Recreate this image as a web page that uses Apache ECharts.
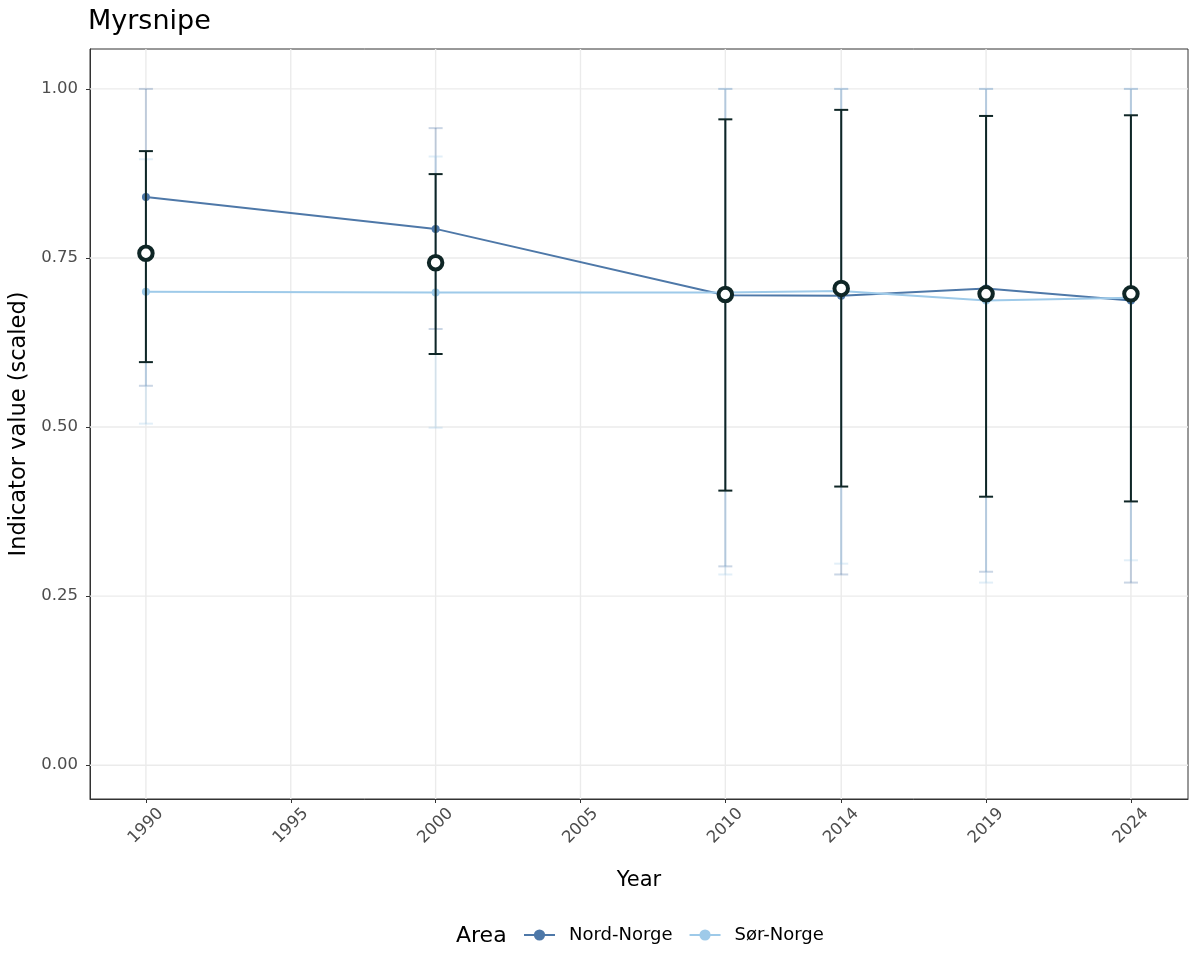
<!DOCTYPE html>
<html>
<head>
<meta charset="utf-8">
<script src="https://cdn.jsdelivr.net/npm/echarts@6/dist/echarts.min.js"></script>
<style>html,body{margin:0;padding:0;background:#fff;}#chart{width:1200px;height:975px;}</style>
</head>
<body>
<div id="chart"></div>
<script>
const years = [1990, 2000, 2010, 2014, 2019, 2024];
const nordMean = [0.840, 0.793, 0.695, 0.694, 0.705, 0.687];
const sorMean = [0.700, 0.699, 0.699, 0.701, 0.687, 0.691];
const nordLow = [0.561, 0.645, 0.294, 0.282, 0.286, 0.270];
const nordHigh = [1.000, 0.942, 1.000, 1.000, 1.000, 1.000];
const sorLow = [0.505, 0.499, 0.282, 0.298, 0.270, 0.303];
const sorHigh = [0.896, 0.900, 1.000, 1.000, 1.000, 1.000];
const totalMean = [0.757, 0.743, 0.696, 0.705, 0.697, 0.697];
const totalLow = [0.596, 0.608, 0.406, 0.412, 0.397, 0.390];
const totalHigh = [0.908, 0.874, 0.955, 0.969, 0.960, 0.961];
const xTicks = [1990, 1995, 2000, 2005, 2010, 2014, 2019, 2024];
const yTicks = [0, 0.25, 0.5, 0.75, 1.0];
const seriesNames = ['Nord-Norge', 'Sør-Norge'];

const FONT = 'DejaVu Sans';
const NORD = '#4e78a8';
const SOR = '#9ecae9';
const DARK = '#0f2626';

function errRender(color, width, half) {
  return function (params, api) {
    const x = api.value(0), lo = api.value(1), hi = api.value(2);
    const a = api.coord([x, lo]), b = api.coord([x, hi]);
    const st = { stroke: color, lineWidth: width };
    return {
      type: 'group',
      children: [
        { type: 'line', shape: { x1: a[0], y1: a[1], x2: b[0], y2: b[1] }, style: st },
        { type: 'line', shape: { x1: a[0] - half, y1: a[1], x2: a[0] + half, y2: a[1] }, style: st },
        { type: 'line', shape: { x1: b[0] - half, y1: b[1], x2: b[0] + half, y2: b[1] }, style: st }
      ]
    };
  };
}

function gridRender(vertical) {
  return function (params, api) {
    const cs = params.coordSys;
    const p = api.coord([api.value(0), api.value(1)]);
    const shape = vertical
      ? { x1: p[0], y1: cs.y, x2: p[0], y2: cs.y + cs.height }
      : { x1: cs.x, y1: p[1], x2: cs.x + cs.width, y2: p[1] };
    return { type: 'line', shape: shape, style: { stroke: '#ebebeb', lineWidth: 1.4 } };
  };
}

const chart = echarts.init(document.getElementById('chart'), null, { renderer: 'canvas' });
chart.setOption({
  animation: false,
  backgroundColor: '#ffffff',
  textStyle: { fontFamily: FONT },
  title: {
    text: 'Myrsnipe', left: 88, top: 8, padding: 0,
    textStyle: { fontFamily: FONT, fontSize: 27, fontWeight: 'normal', color: '#000' }
  },
  grid: {
    left: 90, right: 12, top: 49, bottom: 176,
    outerBoundsMode: 'none', containLabel: false,
    show: true, borderColor: '#333333', borderWidth: 1, backgroundColor: '#fff'
  },
  legend: {
    data: seriesNames,
    left: 518, top: 921,
    itemWidth: 31, itemHeight: 14, itemGap: 16,
    textStyle: { fontFamily: FONT, fontSize: 18, color: '#000', padding: [0, 0, 0, 9] }
  },
  graphic: [{
    type: 'text', left: 456, top: 925,
    style: { text: 'Area', fontFamily: FONT, fontSize: 22, fill: '#000' }
  }],
  xAxis: {
    type: 'value', min: 1988.07, max: 2025.97,
    name: 'Year', nameLocation: 'middle', nameGap: 71,
    nameTextStyle: { fontFamily: FONT, fontSize: 21, color: '#000' },
    axisLine: { show: true, onZero: false, lineStyle: { color: '#333', width: 1 } },
    axisTick: { show: true, customValues: xTicks, length: 4, lineStyle: { color: '#333', width: 1 } },
    axisLabel: {
      customValues: xTicks, rotate: 45, align: 'center', verticalAlign: 'middle', margin: 27,
      fontFamily: FONT, fontSize: 16.5, color: '#4d4d4d', formatter: v => String(v)
    },
    splitLine: { show: false }
  },
  yAxis: {
    type: 'value', min: -0.05, max: 1.059,
    name: 'Indicator value (scaled)', nameLocation: 'middle', nameGap: 59,
    nameTextStyle: { fontFamily: FONT, fontSize: 22.5, color: '#000' },
    axisLine: { show: true, onZero: false, lineStyle: { color: '#333', width: 1 } },
    axisTick: { show: true, customValues: yTicks, length: 4, lineStyle: { color: '#333', width: 1 } },
    axisLabel: {
      customValues: yTicks, margin: 12,
      fontFamily: FONT, fontSize: 16.5, color: '#4d4d4d', formatter: v => v.toFixed(2)
    },
    splitLine: { show: false }
  },
  series: [
    {
      type: 'custom', name: 'gridx', z: 1, silent: true, clip: true,
      renderItem: gridRender(true),
      data: xTicks.map(v => [v, 0])
    },
    {
      type: 'custom', name: 'gridy', z: 1, silent: true, clip: true,
      renderItem: gridRender(false),
      data: yTicks.map(v => [1990, v])
    },
    {
      type: 'custom', name: 'errNord', z: 3, silent: true,
      renderItem: errRender('rgba(78,120,168,0.3)', 2, 7),
      encode: { x: 0, y: [1, 2] },
      data: years.map((y, i) => [y, nordLow[i], nordHigh[i]])
    },
    {
      type: 'custom', name: 'errSor', z: 3, silent: true,
      renderItem: errRender('rgba(158,202,233,0.3)', 2, 7),
      encode: { x: 0, y: [1, 2] },
      data: years.map((y, i) => [y, sorLow[i], sorHigh[i]])
    },
    {
      type: 'line', name: 'Nord-Norge', z: 4,
      data: years.map((y, i) => [y, nordMean[i]]),
      symbol: 'circle', symbolSize: 8,
      itemStyle: { color: NORD }, lineStyle: { color: NORD, width: 2 }
    },
    {
      type: 'line', name: 'Sør-Norge', z: 4,
      data: years.map((y, i) => [y, sorMean[i]]),
      symbol: 'circle', symbolSize: 8,
      itemStyle: { color: SOR }, lineStyle: { color: SOR, width: 2 }
    },
    {
      type: 'custom', name: 'errTotal', z: 5, silent: true,
      renderItem: errRender(DARK, 2, 7),
      encode: { x: 0, y: [1, 2] },
      data: years.map((y, i) => [y, totalLow[i], totalHigh[i]])
    },
    {
      type: 'scatter', name: 'total', z: 6, silent: true,
      data: years.map((y, i) => [y, totalMean[i]]),
      symbol: 'circle', symbolSize: 13.5,
      itemStyle: { color: '#ffffff', borderColor: DARK, borderWidth: 4, opacity: 1 }
    }
  ]
});
</script>
</body>
</html>
